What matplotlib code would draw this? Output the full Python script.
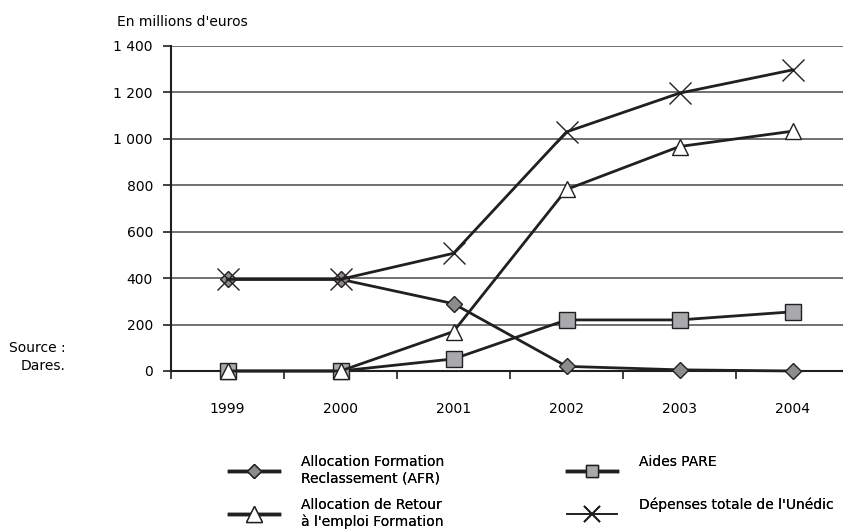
import matplotlib.pyplot as plt
from matplotlib.lines import Line2D

years = ['1999', '2000', '2001', '2002', '2003', '2004']
afr = [395, 395, 290, 20, 5, 0]
pare = [0, 0, 52, 220, 220, 255]
aref = [0, 0, 170, 782, 967, 1033]
total = [395, 395, 507, 1030, 1197, 1297]
yticks = [0, 200, 400, 600, 800, 1000, 1200, 1400]
ytick_labels = ['0', '200', '400', '600', '800', '1 000', '1 200', '1 400']

ink = '#231f20'
plt.rcParams['font.family'] = 'DejaVu Sans'
plt.rcParams['font.size'] = 10

fig = plt.figure(figsize=(8.43, 5.29), dpi=100)
ax = fig.add_axes([171 / 843, 158 / 529, 678 / 843, 325 / 529])

x = [i + 0.5 for i in range(len(years))]
ax.plot(x, pare, color=ink, lw=2, marker='s', ms=11, mfc='#a7a9ac', mec=ink, mew=1, clip_on=False, zorder=3)
ax.plot(x, afr, color=ink, lw=2, marker='D', ms=8.5, mfc='#8a8c8e', mec=ink, mew=1, clip_on=False, zorder=4)
ax.plot(x, aref, color=ink, lw=2, marker='^', ms=12, mfc='white', mec=ink, mew=1, clip_on=False, zorder=5)
ax.plot(x, total, color=ink, lw=2, marker='x', ms=16, mec=ink, mew=1, clip_on=False, zorder=6)

ax.set_xlim(0, 6)
ax.set_ylim(0, 1400)
ax.set_yticks(yticks)
ax.set_yticklabels(ytick_labels)
ax.set_xticks(x)
ax.set_xticklabels(years)
ax.set_xticks(range(7), minor=True)
ax.tick_params(axis='x', which='major', length=0, pad=22)
ax.tick_params(axis='x', which='minor', length=6, width=1.2, color=ink, direction='out')
ax.tick_params(axis='y', length=6, width=1.2, color=ink, pad=7)
ax.yaxis.grid(True, color='#58595b', lw=1.2, zorder=1)
ax.set_axisbelow(True)
for s in ['top', 'right']:
    ax.spines[s].set_visible(False)
for s in ['left', 'bottom']:
    ax.spines[s].set_color(ink)
    ax.spines[s].set_linewidth(1.5)

fig.text(117 / 843, 1 - 22 / 529, "En millions d'euros", ha='left', va='center')
fig.text(66 / 843, 1 - 348 / 529, 'Source :', ha='right', va='center')
fig.text(66 / 843, 1 - 366 / 529, 'Dares.', ha='right', va='center')

# legend, one box per entry
entries = [
    (Line2D([], [], color=ink, lw=2.5, marker='D', ms=7, mfc='#8a8c8e', mec=ink),
     'Allocation Formation\nReclassement (AFR)', 229, 455),
    (Line2D([], [], color=ink, lw=2.5, marker='s', ms=9, mfc='#a7a9ac', mec=ink),
     'Aides PARE\n ', 567, 455),
    (Line2D([], [], color=ink, lw=2.5, marker='^', ms=11, mfc='white', mec=ink),
     "Allocation de Retour\nà l'emploi Formation", 229, 498),
    (Line2D([], [], color=ink, lw=1.2, marker='x', ms=11, mec=ink, mew=1.3),
     "Dépenses totale de l'Unédic\n ", 567, 498),
]
for h, lab, px, py in entries:
    leg = fig.legend([h], [lab], loc='upper left', bbox_to_anchor=(px / 843, 1 - py / 529),
                     frameon=False, borderpad=0, borderaxespad=0, handlelength=3.6,
                     handletextpad=1.6, fontsize=10)
    fig.add_artist(leg)

fig.savefig('out.png', dpi=100)
